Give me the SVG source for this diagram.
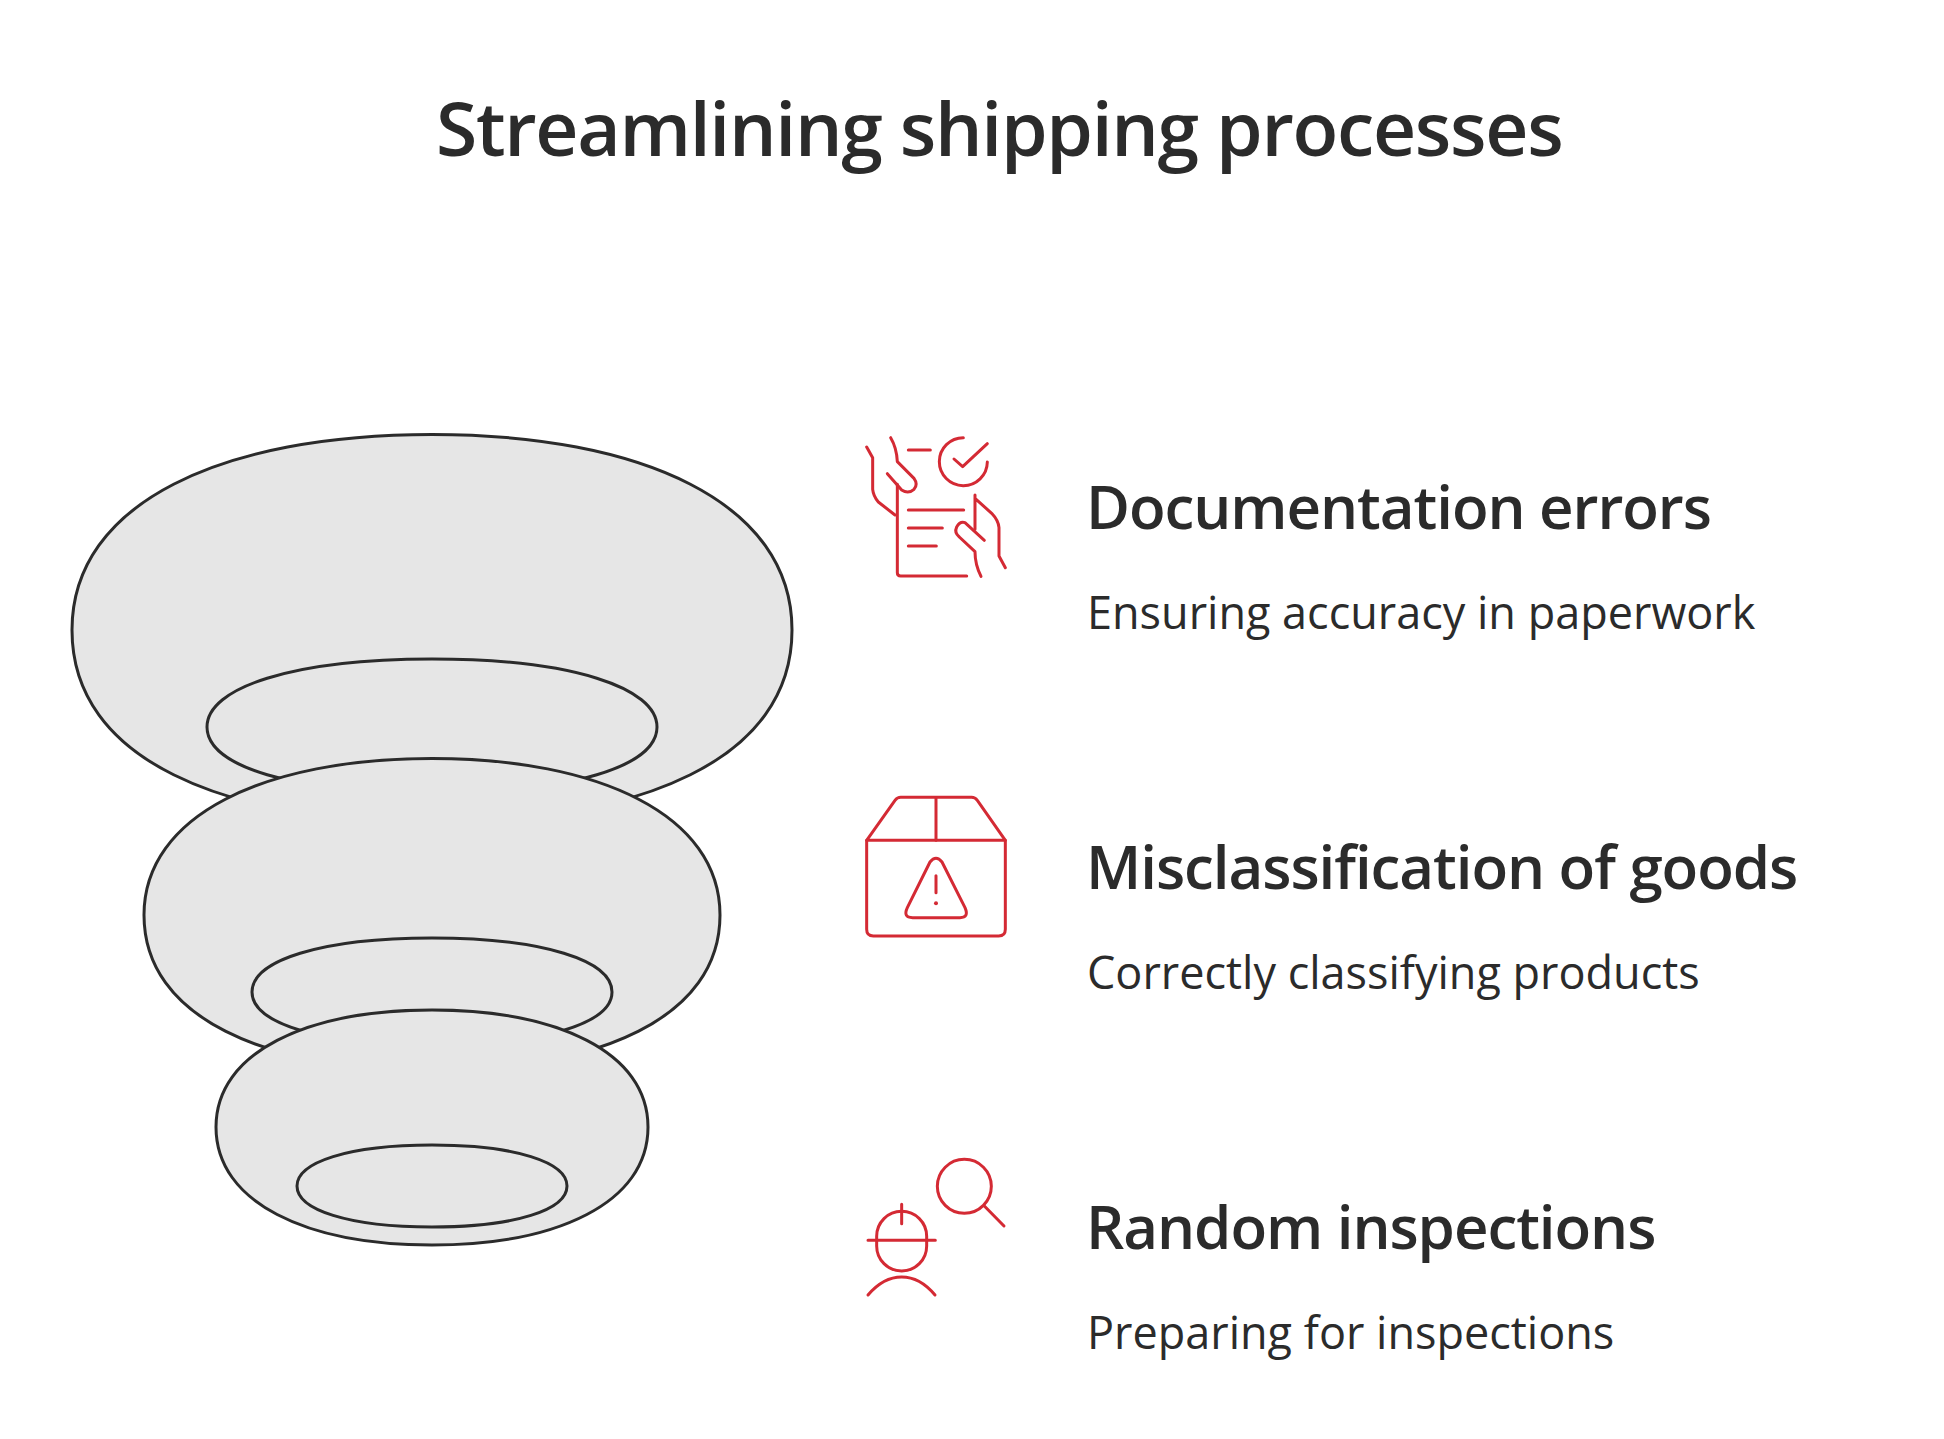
<svg xmlns="http://www.w3.org/2000/svg" width="1944" height="1439" viewBox="0 0 1944 1439">
<style>
.t{font-family:"Open Sans","Noto Sans","Liberation Sans",sans-serif;fill:#2b2b2b}
.title{font-size:75px;font-weight:600;letter-spacing:-1.3px}
.h{font-size:60px;font-weight:600;letter-spacing:-1.05px}
.s{font-size:45px;font-weight:400}
.b{fill:#e6e6e6;stroke:#2b2b2b;stroke-width:3}
.i{fill:none;stroke:#d42a34;stroke-width:9;stroke-linecap:round;stroke-linejoin:round}
</style>
<rect width="1944" height="1439" fill="#fff"/>
<text class="t title" x="436" y="156">Streamlining shipping processes</text>
<g id="tier1">
<path class="b" d="M432 434.5C641 434.5 792 502 792 630C792 760 641 822 432 822C223 822 72 760 72 630C72 502 223 434.5 432 434.5Z"/>
<path class="b" d="M432 659C571.5 659 657 687.6 657 727C657 766.4 571.5 793 432 793C292.5 793 207 766.4 207 727C207 687.6 292.5 659 432 659Z"/>
</g>
<g id="tier2">
<path class="b" d="M432 758.5C599 758.5 720 815 720 915C720 1018 599 1070 432 1070C265 1070 144 1018 144 915C144 815 265 758.5 432 758.5Z"/>
<path class="b" d="M432 938C543.6 938 612 960.7 612 992C612 1023.3 543.6 1045 432 1045C320.4 1045 252 1023.3 252 992C252 960.7 320.4 938 432 938Z"/>
</g>
<g id="tier3">
<path class="b" d="M432 1010C557 1010 648 1052 648 1127C648 1203 557 1245 432 1245C307 1245 216 1203 216 1127C216 1052 307 1010 432 1010Z"/>
<path class="b" d="M432 1145C515.7 1145 567 1162.2 567 1186C567 1209.8 515.7 1227 432 1227C348.3 1227 297 1209.8 297 1186C297 1162.2 348.3 1145 432 1145Z"/>
</g>
<g id="item1">
<g transform="translate(850 421) scale(.33333)">
<path class="i" d="M50 78L68 110V205Q70 225 85 243L135 282"/>
<path class="i" d="M122 50Q140 80 142 122L192 172Q205 190 192 205Q175 220 155 207L112 158"/>
<path class="i" d="M142 190V455Q142 465 152 465H350"/>
<path class="i" d="M175 87H241M175 267H341M175 321H277M175 375H259"/>
<path class="i" d="M340 50A72 72 0 1 0 412 123M312 114L338 137L412 68"/>
<path class="i" d="M375 222V325M375 232L425 277Q445 298 447 320V405L466 440"/>
<path class="i" d="M403 358L345 305Q330 300 320 318Q312 335 328 348L375 392Q375 430 393 466"/>
</g>
<text class="t h" x="1086" y="529">Documentation errors</text>
<text class="t s" x="1087" y="629">Ensuring accuracy in paperwork</text>
</g>
<g id="item2">
<g transform="translate(850 781) scale(.33333)">
<path class="i" d="M50 178H466V445Q466 465 446 465H70Q50 465 50 445Z"/>
<path class="i" d="M50 178L135 58Q142 49 152 49H365Q375 49 382 58L466 178M258 49V178"/>
<path class="i" d="M240 243Q258 220 276 243L345 380Q358 410 330 410H188Q158 410 172 380Z"/>
<path class="i" d="M258 284V335"/>
<circle cx="258" cy="367" r="6" fill="#d42a34"/>
</g>
<text class="t h" x="1086" y="889">Misclassification of goods</text>
<text class="t s" x="1087" y="989">Correctly classifying products</text>
</g>
<g id="item3">
<g transform="translate(850 1141) scale(.33333)">
<circle class="i" cx="343" cy="136" r="81"/>
<path class="i" d="M403 195L462 255"/>
<rect class="i" x="80" y="211" width="150" height="179" rx="75"/>
<path class="i" d="M54 298H256M155 190V248"/>
<path class="i" d="M54 462Q100 408 155 408Q210 408 255 462"/>
</g>
<text class="t h" x="1086" y="1249">Random inspections</text>
<text class="t s" x="1087" y="1349">Preparing for inspections</text>
</g>
</svg>
